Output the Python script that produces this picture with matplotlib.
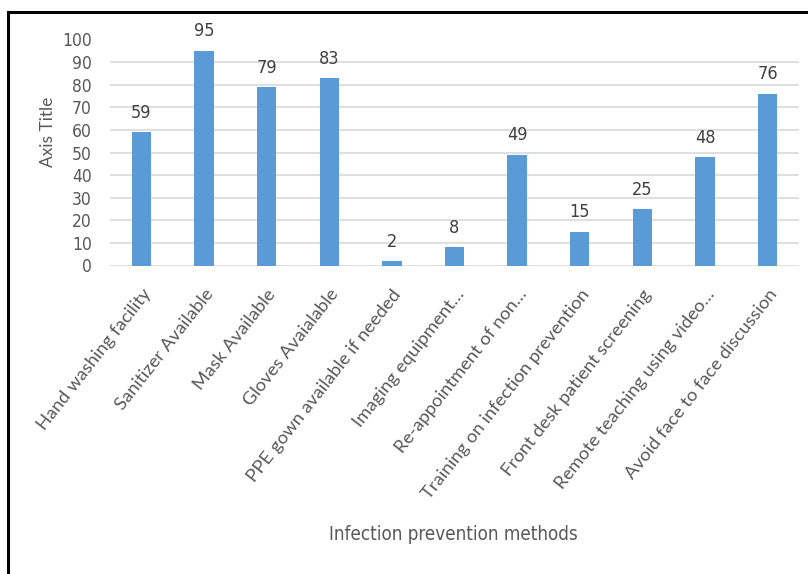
import matplotlib
matplotlib.use("Agg")
import matplotlib.pyplot as plt
from matplotlib.lines import Line2D
from matplotlib import font_manager

categories = [
    "Hand washing facility",
    "Sanitizer Available",
    "Mask Available",
    "Gloves Avaialable",
    "PPE gown available if needed",
    "Imaging equipment\u2026",
    "Re-appointment of non\u2026",
    "Training on infection prevention",
    "Front desk patient screening",
    "Remote teaching using video\u2026",
    "Avoid face to face discussion",
]
values = [59, 95, 79, 83, 2, 8, 49, 15, 25, 48, 76]
y_ticks = [0, 10, 20, 30, 40, 50, 60, 70, 80, 90, 100]

installed = {f.name for f in font_manager.fontManager.ttflist}
narrow = dict(fontfamily="DejaVu Sans", fontstretch="condensed")
body = "Lato" if "Lato" in installed else "DejaVu Sans"

W, H = 808, 574
fig = plt.figure(figsize=(W / 100, H / 100), dpi=100)
fig.patch.set_facecolor("white")

left, right, top, bottom = 110, 799, 39.5, 265.5
ax = fig.add_axes([left / W, 1 - bottom / H, (right - left) / W, (bottom - top) / H])

x = list(range(len(categories)))
ax.bar(x, values, width=0.31, color="#5b9bd5", zorder=3)
ax.set_xlim(-0.5, len(categories) - 0.5)
ax.set_ylim(0, 100)
ax.set_yticks(y_ticks)
ax.set_yticklabels([str(t) for t in y_ticks], fontsize=12.5, color="#595959", **narrow)
ax.grid(axis="y", color="#d9d9d9", linewidth=1.2, zorder=0)
ax.tick_params(axis="y", length=0, pad=13)
ax.tick_params(axis="x", length=0, pad=15)
for s in ax.spines.values():
    s.set_visible(False)

ax.set_xticks(x)
ax.set_xticklabels(categories, rotation=52, ha="right", rotation_mode="anchor",
                   fontfamily=body, fontsize=13.3, color="#595959")

for xi, v in zip(x, values):
    ax.annotate(str(v), (xi, v), xytext=(0, 7.5), textcoords="offset points",
                ha="center", va="bottom", fontsize=13, color="#404040",
                clip_on=False, **narrow)

fig.text(48 / W, 1 - 132 / H, "Axis Title", rotation=90, ha="center", va="center",
         fontfamily=body, fontsize=12.5, color="#595959")
fig.text(453 / W, 1 - 535 / H, "Infection prevention methods", ha="center", va="center",
         fontsize=13.5, color="#595959", **narrow)

# outer frame: left and top edges
fig.add_artist(Line2D([7.5 / W, 7.5 / W], [0, 1 - 12 / H], color="black", linewidth=2.2,
                      transform=fig.transFigure))
fig.add_artist(Line2D([7.5 / W, 1], [1 - 12 / H, 1 - 12 / H], color="black", linewidth=2.2,
                      transform=fig.transFigure))

fig.savefig("out.png", dpi=100)
